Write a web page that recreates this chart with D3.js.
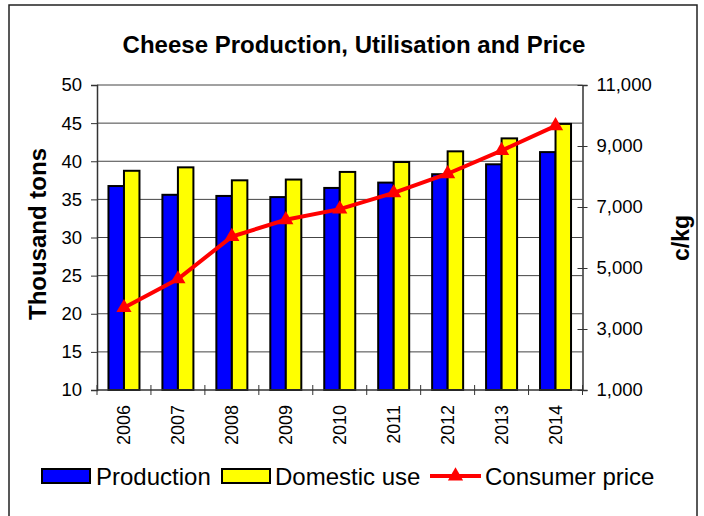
<!DOCTYPE html>
<html><head><meta charset="utf-8">
<script src="https://cdn.jsdelivr.net/npm/d3@7"></script>
<style>body{margin:0;background:#fff}svg{display:block;font-family:Arial,"Liberation Sans",sans-serif}</style>
</head><body>
<svg id="c" width="704" height="516"></svg>
<script>
const years = ["2006","2007","2008","2009","2010","2011","2012","2013","2014"];
const production = [36.75, 35.6, 35.45, 35.3, 36.5, 37.2, 38.3, 39.6, 41.2];
const domesticUse = [38.75, 39.2, 37.5, 37.6, 38.6, 39.9, 41.3, 43.0, 44.9];
const consumerPrice = [3700, 4640, 6030, 6580, 6930, 7460, 8090, 8850, 9660];
const leftTicks = [10,15,20,25,30,35,40,45,50];
const rightTicks = [1000,3000,5000,7000,9000,11000];

const svg = d3.select("#c");
const L = 97, R = 582.5, T = 85, B = 390;

svg.append("rect").attr("x",9).attr("y",5).attr("width",688).attr("height",530)
  .attr("fill","none").attr("stroke","#222").attr("stroke-width",1.5);

svg.append("text").attr("x",354).attr("y",53).attr("text-anchor","middle")
  .attr("font-size",24).attr("font-weight","bold").text("Cheese Production, Utilisation and Price");

const x = d3.scaleBand().domain(years).range([L,R]);
const y = d3.scaleLinear().domain([10,50]).range([B,T]);
const y2 = d3.scaleLinear().domain([1000,11000]).range([B,T]);
const bw = 15.5;

// gridlines
svg.append("g").selectAll("line").data(leftTicks.slice(1)).join("line")
  .attr("x1",L).attr("x2",R).attr("y1",d=>y(d)).attr("y2",d=>y(d))
  .attr("stroke","#444").attr("stroke-width",1);

// bars
svg.append("g").selectAll("rect").data(production).join("rect")
  .attr("x",(d,i)=>x(years[i])+x.bandwidth()/2-bw).attr("width",bw)
  .attr("y",d=>y(d)).attr("height",d=>B-y(d))
  .attr("fill","#0000ff").attr("stroke","#000").attr("stroke-width",2);
svg.append("g").selectAll("rect").data(domesticUse).join("rect")
  .attr("x",(d,i)=>x(years[i])+x.bandwidth()/2).attr("width",bw)
  .attr("y",d=>y(d)).attr("height",d=>B-y(d))
  .attr("fill","#ffff00").attr("stroke","#000").attr("stroke-width",2);

// left axis
const ga = svg.append("g").attr("transform",`translate(${L},0)`)
  .call(d3.axisLeft(y).tickValues(leftTicks).tickSize(6).tickPadding(9));
ga.select(".domain").attr("stroke","#333").attr("stroke-width",1.5);
ga.selectAll("line").attr("stroke","#333");
ga.selectAll("text").attr("font-size",18.5).attr("fill","#000").attr("font-family","Arial,'Liberation Sans',sans-serif");

// right axis
const gr = svg.append("g").attr("transform",`translate(${R},0)`)
  .call(d3.axisRight(y2).tickValues(rightTicks).tickSize(5).tickPadding(9).tickFormat(d3.format(",")));
gr.select(".domain").attr("stroke","#333").attr("stroke-width",1.5);
gr.selectAll(".tick line").attr("x1",-5).attr("stroke","#333");
gr.selectAll("text").attr("font-size",18.5).attr("fill","#000").attr("font-family","Arial,'Liberation Sans',sans-serif");

// bottom axis
const gb = svg.append("g").attr("transform",`translate(0,${B})`);
gb.append("line").attr("x1",L).attr("x2",R).attr("stroke","#333").attr("stroke-width",1.5);
gb.selectAll("line.t").data(years.concat(["end"])).join("line").attr("class","t")
  .attr("x1",(d,i)=>L+i*x.step()).attr("x2",(d,i)=>L+i*x.step())
  .attr("y1",-5).attr("y2",5).attr("stroke","#333");
gb.selectAll("text").data(years).join("text")
  .attr("transform",d=>`translate(${x(d)+x.bandwidth()/2},15) rotate(-90)`)
  .attr("text-anchor","end").attr("dy","0.35em").attr("font-size",18).text(d=>d);

// line
const line = d3.line().x((d,i)=>x(years[i])+x.bandwidth()/2).y(d=>y2(d));
svg.append("path").datum(consumerPrice).attr("d",line).attr("fill","none")
  .attr("stroke","#ff0000").attr("stroke-width",4);
const tri = d3.symbol().type(d3.symbolTriangle).size(100);
svg.append("g").selectAll("path").data(consumerPrice).join("path")
  .attr("transform",(d,i)=>`translate(${x(years[i])+x.bandwidth()/2},${y2(d)})`)
  .attr("d",tri).attr("fill","#ff0000");

// axis titles
svg.append("text").attr("transform","translate(46,234) rotate(-90)").attr("text-anchor","middle")
  .attr("font-size",24).attr("font-weight","bold").text("Thousand tons");
svg.append("text").attr("transform","translate(689,238) rotate(-90)").attr("text-anchor","middle")
  .attr("font-size",23).attr("font-weight","bold").text("c/kg");

// legend
const ly = 476;
const lg = svg.append("g");
lg.append("rect").attr("x",42).attr("y",ly-7).attr("width",48).attr("height",14)
  .attr("fill","#0000ff").attr("stroke","#000").attr("stroke-width",2);
lg.append("text").attr("x",96).attr("y",ly).attr("dy","0.36em").attr("font-size",24).text("Production");
lg.append("rect").attr("x",222).attr("y",ly-7).attr("width",48).attr("height",14)
  .attr("fill","#ffff00").attr("stroke","#000").attr("stroke-width",2);
lg.append("text").attr("x",275).attr("y",ly).attr("dy","0.36em").attr("font-size",24).text("Domestic use");
lg.append("line").attr("x1",430).attr("x2",481).attr("y1",ly).attr("y2",ly)
  .attr("stroke","#ff0000").attr("stroke-width",4);
lg.append("path").attr("transform",`translate(455.5,${ly})`).attr("d",tri).attr("fill","#ff0000");
lg.append("text").attr("x",485).attr("y",ly).attr("dy","0.36em").attr("font-size",24).text("Consumer price");
</script>
</body></html>
